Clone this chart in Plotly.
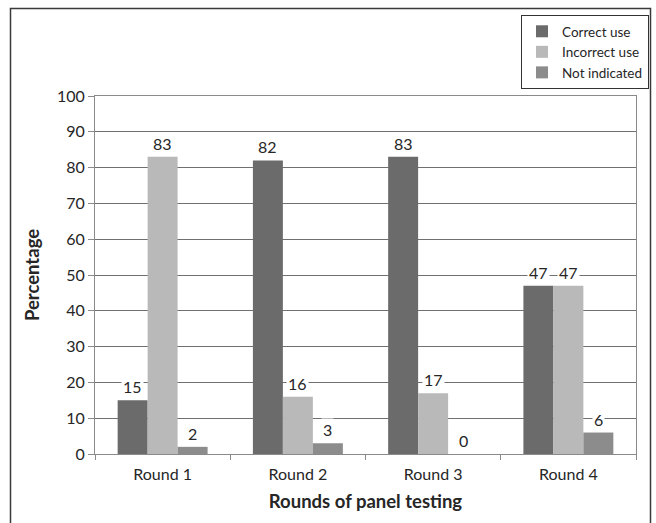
import plotly.graph_objects as go

# Survey results per round of panel testing (percent of responses)
rounds = ["Round 1", "Round 2", "Round 3", "Round 4"]
series_names = ["Correct use", "Incorrect use", "Not indicated"]
correct_use = [15, 82, 83, 47]
incorrect_use = [83, 16, 17, 47]
not_indicated = [2, 3, 0, 6]
y_ticks = [0, 10, 20, 30, 40, 50, 60, 70, 80, 90, 100]

series_values = [correct_use, incorrect_use, not_indicated]
series_colors = ["#6b6b6b", "#b9b9b9", "#8c8c8c"]

FONT = "Lato, 'Liberation Sans', sans-serif"
TEXT_COLOR = "#262626"
W, H = 656, 523
M_L, M_R, M_T, M_B = 95, 20, 96, 69
BARGAP = 0.335

fig = go.Figure()
for name, vals, col in zip(series_names, series_values, series_colors):
    fig.add_trace(go.Bar(
        x=rounds, y=vals, name=name,
        marker=dict(color=col, line=dict(width=0)),
    ))

# Value labels sit above each bar on a white box that breaks the gridlines
plot_w = W - M_L - M_R
cat_w = plot_w / len(rounds)
bar_w = cat_w * (1 - BARGAP) / len(series_names)
for i, vals in enumerate(series_values):
    shift = (i - (len(series_names) - 1) / 2) * bar_w
    for r, v in zip(rounds, vals):
        fig.add_annotation(
            x=r, y=v, xref="x", yref="y", text=str(v), showarrow=False,
            xshift=shift, yanchor="bottom", yshift=2,
            bgcolor="white", borderpad=1,
            font=dict(family=FONT, size=16, color=TEXT_COLOR),
        )

# Outer frame around the chart
plot_h = H - M_T - M_B
def px_x(px):
    return (px - M_L) / plot_w
def px_y(py):
    return (H - M_B - py) / plot_h

fig.add_shape(
    type="path", xref="paper", yref="paper",
    path=f"M {px_x(10.5)} {px_y(560)} L {px_x(10.5)} {px_y(8.5)} "
         f"L {px_x(650.5)} {px_y(8.5)} L {px_x(650.5)} {px_y(560)}",
    line=dict(color="#3a3a3a", width=1.5),
)

fig.update_layout(
    width=W, height=H,
    margin=dict(l=M_L, r=M_R, t=M_T, b=M_B, autoexpand=False),
    paper_bgcolor="white", plot_bgcolor="white",
    barmode="group", bargap=BARGAP, bargroupgap=0,
    font=dict(family=FONT, size=16, color=TEXT_COLOR),
    showlegend=True,
    legend=dict(
        x=px_x(521), y=px_y(15), xanchor="left", yanchor="top",
        bordercolor="#333333", borderwidth=1, bgcolor="white",
        font=dict(family=FONT, size=13.5, color=TEXT_COLOR),
        tracegroupgap=0, itemwidth=30,
    ),
    xaxis=dict(
        showline=True, linecolor="#8a8a8a", linewidth=1, mirror=True,
        ticks="outside", tickson="boundaries", ticklen=5, tickcolor="#8a8a8a",
        showgrid=False, tickfont=dict(size=16), ticklabelstandoff=6,
        title=dict(text="<b>Rounds of panel testing</b>", font=dict(size=18.5), standoff=12),
    ),
    yaxis=dict(
        range=[0, 100], tickvals=y_ticks, showline=True, linecolor="#8a8a8a",
        linewidth=1, mirror=True, ticks="outside", ticklen=6, tickcolor="#8a8a8a",
        showgrid=True, gridcolor="#707070", gridwidth=1, zeroline=False,
        tickfont=dict(size=16),
        title=dict(text="<b>Percentage</b>", font=dict(size=18.5), standoff=12),
    ),
)

fig.write_html("out.html")
